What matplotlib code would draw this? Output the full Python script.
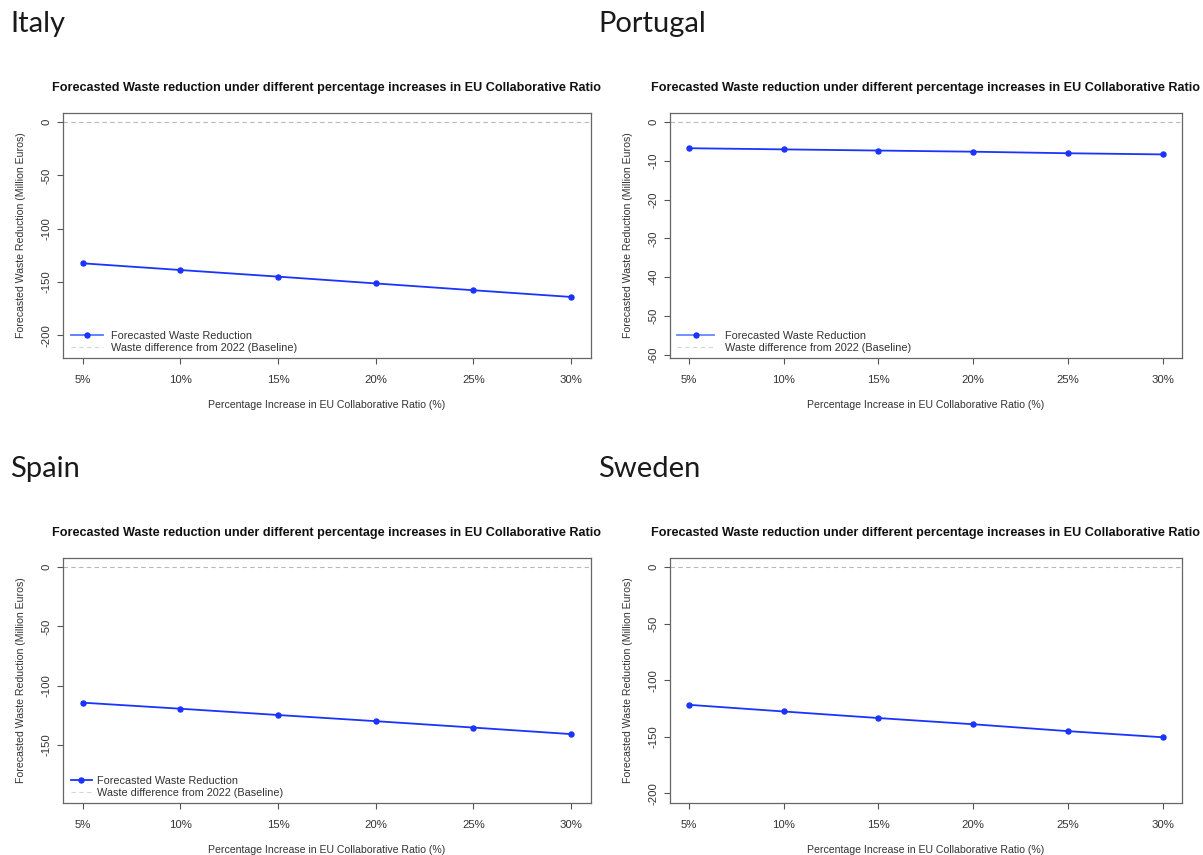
import matplotlib
matplotlib.use("Agg")
import matplotlib.pyplot as plt
from matplotlib.lines import Line2D

plt.rcParams['font.family'] = ['Liberation Sans', 'DejaVu Sans']

# data
pct = [5, 10, 15, 20, 25, 30]
pct_labels = ['5%', '10%', '15%', '20%', '25%', '30%']
italy = [-132.6, -138.9, -145.1, -151.5, -157.9, -164.2]
portugal = [-6.7, -7.0, -7.3, -7.6, -8.0, -8.3]
spain = [-114.3, -119.4, -124.7, -129.9, -135.3, -140.8]
sweden = [-121.9, -127.8, -133.6, -139.1, -145.2, -150.6]

title = "Forecasted Waste reduction under different percentage increases in EU Collaborative Ratio"
xlab = "Percentage Increase in EU Collaborative Ratio (%)"
ylab = "Forecasted Waste Reduction (Million Euros)"

W, H = 1203, 855
fig = plt.figure(figsize=(W / 100, H / 100), dpi=100)

BLUE = '#1a33ff'
PT = 0.72  # points per pixel at dpi 100


def px_axes(x0, y0, x1, y1):
    return fig.add_axes([x0 / W, 1 - y1 / H, (x1 - x0) / W, (y1 - y0) / H])


panels = [
    # name, values, box (px), ylim, yticks, legend style
    ("Italy", italy, (63, 113, 590.7, 358), (-221.5, 8.5), [0, -50, -100, -150, -200],
     dict(handlelength=3.0, handletextpad=0.75, line='#5577ff')),
    ("Portugal", portugal, (670, 113, 1181.7, 358), (-60.9, 2.4), [0, -10, -20, -30, -40, -50, -60],
     dict(handlelength=3.4, handletextpad=0.95, line='#6688ff')),
    ("Spain", spain, (63, 558, 590.7, 802.7), (-198.6, 7.6), [0, -50, -100, -150],
     dict(handlelength=2.0, handletextpad=0.45, line=BLUE)),
    ("Sweden", sweden, (670, 558, 1181.7, 802.7), (-208.5, 8.0), [0, -50, -100, -150, -200],
     None),
]

for name, vals, box, ylim, yticks, leg in panels:
    x0, y0, x1, y1 = box
    ax = px_axes(*box)
    ax.axhline(0, color='#b8b8b8', lw=0.8, ls=(0, (4, 3)), zorder=1)
    ax.plot(pct, vals, color=BLUE, lw=1.3, marker='o', ms=3.6, zorder=3)
    ax.set_xlim(4, 31)
    ax.set_ylim(*ylim)
    ax.set_xticks(pct)
    ax.set_xticklabels(pct_labels)
    ax.set_yticks(yticks)
    ax.set_yticklabels([str(t) for t in yticks], rotation=90, va='center')
    for s in ax.spines.values():
        s.set_color('#666666')
        s.set_linewidth(0.9)
    ax.tick_params(axis='both', direction='out', length=4.3, width=0.8,
                   color='#555555', labelcolor='#333333', labelsize=8.2)
    ax.tick_params(axis='x', pad=8)
    ax.tick_params(axis='y', pad=4)

    ax.annotate(title, xy=(0.5, 1), xycoords='axes fraction', xytext=(0, 25 * PT),
                textcoords='offset points', ha='center', va='center',
                fontsize=9.1, fontweight='bold', color='#111111')
    ax.annotate(xlab, xy=(0.5, 0), xycoords='axes fraction', xytext=(0, -47 * PT),
                textcoords='offset points', ha='center', va='center',
                fontsize=7.6, color='#333333')
    ax.annotate(ylab, xy=(0, 0.5), xycoords='axes fraction', xytext=(-42 * PT, 0),
                textcoords='offset points', ha='center', va='center', rotation=90,
                fontsize=7.6, color='#333333')

    if leg is not None:
        handles = [
            Line2D([], [], color=leg['line'], lw=1.3, marker='o', ms=3.6,
                   markerfacecolor=BLUE, markeredgecolor=BLUE),
            Line2D([], [], color='#d6d6d6', lw=0.8, ls=(0, (4, 3))),
        ]
        ax.legend(handles, ["Forecasted Waste Reduction", "Waste difference from 2022 (Baseline)"],
                  loc='lower left', bbox_to_anchor=(0.005, 0.0), frameon=False,
                  borderaxespad=0.25, borderpad=0.2, labelspacing=0.18,
                  handlelength=leg['handlelength'], handletextpad=leg['handletextpad'],
                  fontsize=7.8, labelcolor='#333333')

    # country heading above each panel
    hx = 10 if x0 < 600 else 598
    hy = 32 if y0 < 400 else 477
    fig.text(hx / W, 1 - hy / H, name, fontsize=21, family=['Lato', 'DejaVu Sans'],
             fontweight='normal', color='#1a1a1a', va='baseline', ha='left')

fig.savefig("out.png", dpi=100)
